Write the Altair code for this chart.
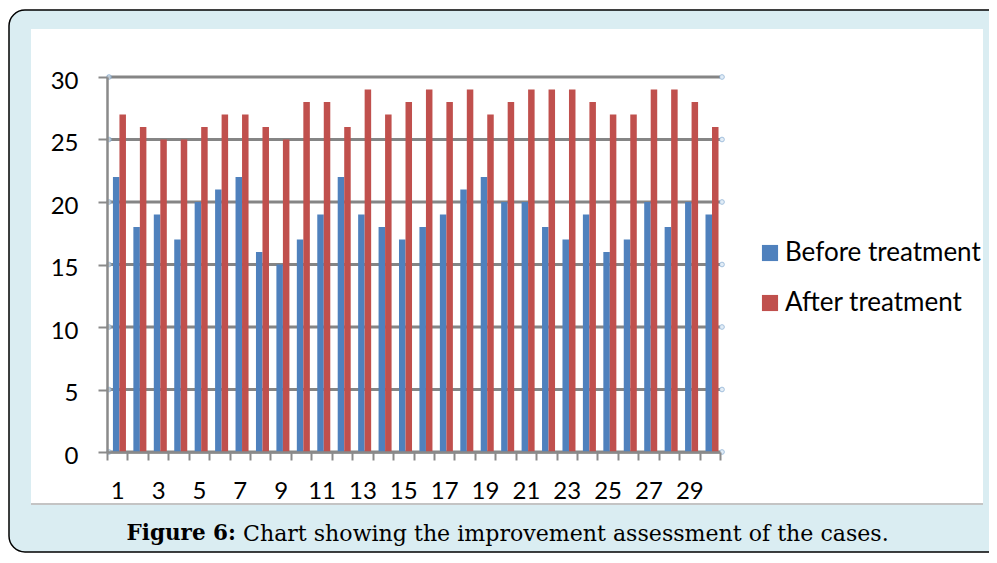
import altair as alt
import pandas as pd

cases = list(range(1, 31))
before = [22, 18, 19, 17, 20, 21, 22, 16, 15, 17, 19, 22, 19, 18, 17,
          18, 19, 21, 22, 20, 20, 18, 17, 19, 16, 17, 20, 18, 20, 19]
after = [27, 26, 25, 25, 26, 27, 27, 26, 25, 28, 28, 26, 29, 27, 28,
         29, 28, 29, 27, 28, 29, 29, 29, 28, 27, 27, 29, 29, 28, 26]
series_names = ["Before treatment", "After treatment"]
series_colors = ["#4F81BD", "#C0504D"]
y_ticks = [0, 5, 10, 15, 20, 25, 30]
caption_bold = "Figure 6:"
caption_rest = "Chart showing the improvement assessment of the cases."

W, H = 613, 375

rows = []
for c, b, a in zip(cases, before, after):
    rows.append({"case": c, "series": series_names[0], "value": b})
    rows.append({"case": c, "series": series_names[1], "value": a})
df = pd.DataFrame(rows)
ticks_df = pd.DataFrame({"v": y_ticks})
one = pd.DataFrame({"k": [0]})

y_axis = alt.Axis(values=y_ticks, grid=False, tickSize=9,
                  tickColor="#8A8A8A", tickWidth=2, domainColor="#8A8A8A",
                  domainWidth=2.5, labelFont="Lato", labelFontSize=24,
                  labelColor="black", labelPadding=20, labelOffset=4,
                  zindex=1)
y_scale = alt.Scale(domain=[0, 30])

outer = alt.Chart(one).mark_rect(
    fill="#DAEDF2", stroke="black", strokeWidth=1.5, cornerRadius=16
).encode(x=alt.value(-98), x2=alt.value(905), y=alt.value(-67), y2=alt.value(475))

panel = alt.Chart(one).mark_rect(fill="white").encode(
    x=alt.value(-76), x2=alt.value(876), y=alt.value(-48), y2=alt.value(427))

panel_line = alt.Chart(one).mark_rule(color="#C4C4C4", strokeWidth=2).encode(
    x=alt.value(-76), x2=alt.value(876), y=alt.value(427))

grid = alt.Chart(ticks_df).mark_rule(color="#858585", strokeWidth=2.8).encode(
    y=alt.Y("v:Q", title=None, axis=y_axis, scale=y_scale),
    x=alt.value(0), x2=alt.value(W))

handles_l = alt.Chart(ticks_df).mark_point(
    shape="circle", size=22, filled=True, fill="#D6E6F4", stroke="#7DA6CF", strokeWidth=1
).encode(y=alt.Y("v:Q", title=None, axis=y_axis, scale=y_scale), x=alt.value(2))

handles_r = alt.Chart(ticks_df).mark_point(
    shape="circle", size=22, filled=True, fill="#D6E6F4", stroke="#7DA6CF", strokeWidth=1
).encode(y=alt.Y("v:Q", title=None, axis=y_axis, scale=y_scale), x=alt.value(W + 2))

bars = alt.Chart(df).mark_bar().encode(
    x=alt.X("case:O", title=None,
            scale=alt.Scale(paddingInner=0, paddingOuter=0),
            axis=alt.Axis(labelExpr="datum.value % 2 == 1 ? datum.label : ''",
                          labelAngle=0, tickBand="extent", tickSize=8,
                          tickColor="#8A8A8A", tickWidth=2, domainColor="#8A8A8A",
                          domainWidth=2.5, labelFont="Lato", labelFontSize=24,
                          labelColor="black", labelPadding=19, zindex=1)),
    xOffset=alt.XOffset("series:N", sort=series_names,
                        scale=alt.Scale(paddingInner=0, paddingOuter=0.57, align=0.8)),
    y=alt.Y("value:Q", title=None, scale=y_scale, axis=y_axis),
    color=alt.Color("series:N", sort=series_names,
                    scale=alt.Scale(domain=series_names, range=series_colors),
                    legend=alt.Legend(title=None, orient="none", legendX=650, legendY=163,
                                      symbolType="square", symbolSize=260,
                                      symbolStrokeWidth=0, labelFont="Lato",
                                      labelFontSize=26, labelColor="black",
                                      labelOffset=2, rowPadding=24, labelLimit=0)),
)

cap1 = alt.Chart(one).mark_text(
    text=caption_bold, font="DejaVu Serif", fontSize=21.5, fontWeight="bold",
    align="right", baseline="middle", color="black"
).encode(x=alt.value(129), y=alt.value(457))

cap2 = alt.Chart(one).mark_text(
    text=caption_rest, font="DejaVu Serif", fontSize=22.1,
    align="left", baseline="middle", color="black"
).encode(x=alt.value(136), y=alt.value(457))

chart = alt.layer(outer, panel, panel_line, grid, handles_l, handles_r, bars, cap1, cap2).properties(
    width=W, height=H,
    autosize=alt.AutoSizeParams(type="none"),
    padding={"left": 99, "top": 69, "right": 269, "bottom": 102},
    background="white",
).configure_view(stroke=None)

chart.save("out.html", embed_options={"renderer": "svg", "actions": False})
